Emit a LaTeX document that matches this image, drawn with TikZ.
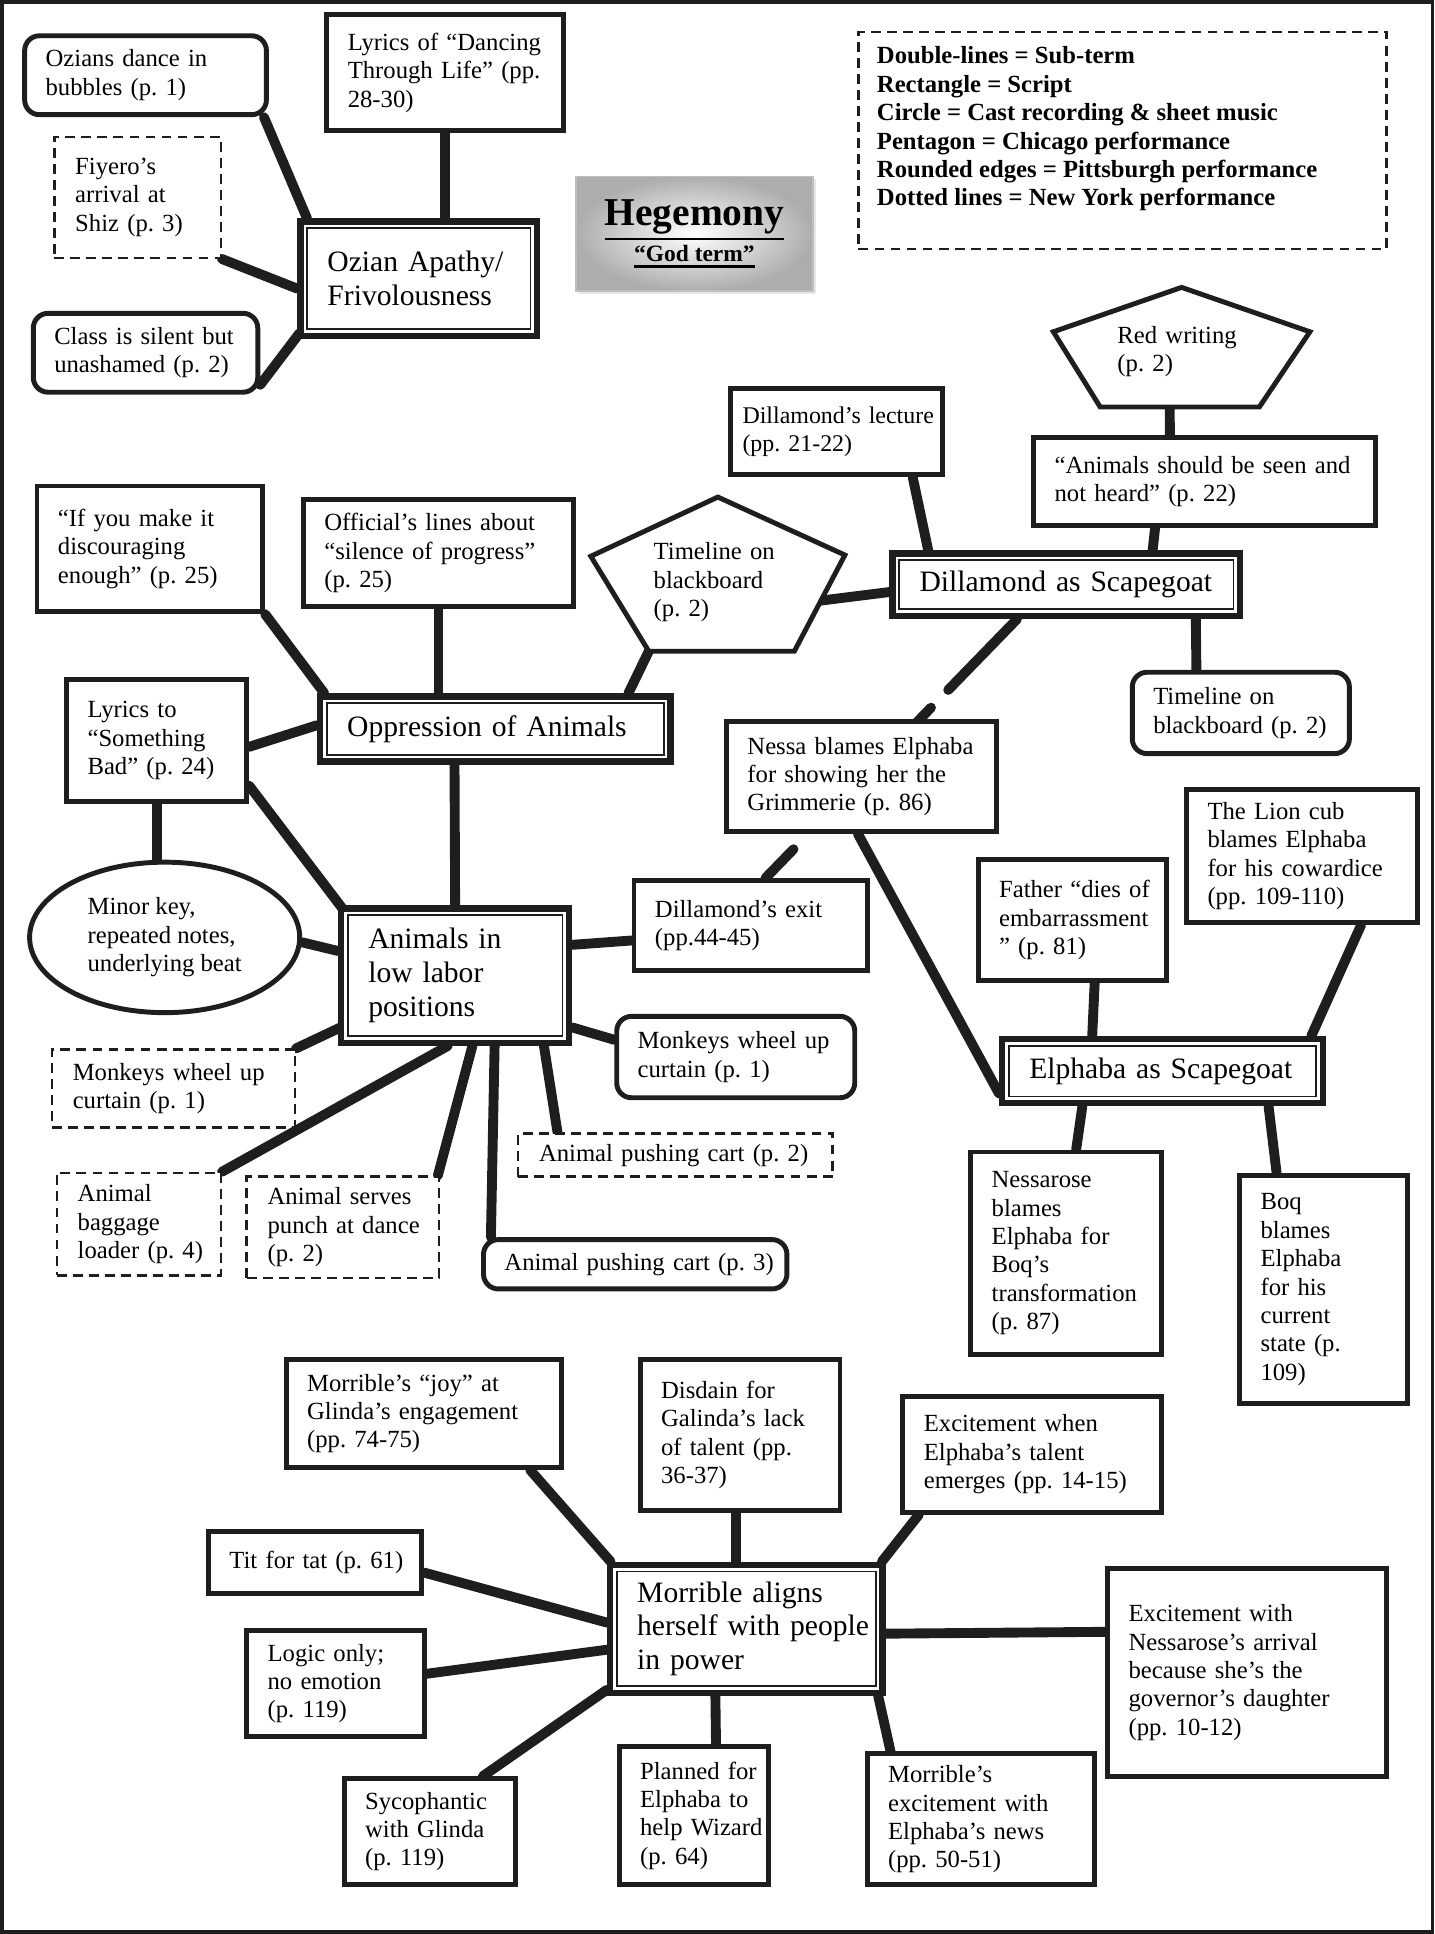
\documentclass[tikz,border=0pt]{standalone}
\usepackage{fontspec}
\setmainfont{Liberation Serif}
\usepackage{xcolor}
\usepackage{tikz}
\usetikzlibrary{calc, shapes.geometric, backgrounds, shadows}

\definecolor{ink}{HTML}{1E1E1E}
\newcommand{\heavyul}[1]{\leavevmode\vtop{\hbox{#1}\kern1.3pt\hrule height 1.1pt}}
\frenchspacing

\tikzset{
	script/.style = {draw = ink, line width = 2pt, fill = white, align = left,
		font = \fontsize{10}{11.5}\selectfont, inner xsep = 8.5pt,
		execute at begin node = {\rightskip = -16pt plus 2em}},
	pitt/.style = {script, rounded corners = 6pt},
	newyork/.style = {script, line width = 1pt, dash pattern = on 4pt off 2.5pt},
	subterm/.style = {script, line width = 2.6pt, inner xsep = 11pt,
		font = \fontsize{12}{13.7}\selectfont,
		path picture = {\draw [ink, line width = 0.7pt]
			([shift = {(2.7pt,-2.7pt)}]path picture bounding box.north west) rectangle
			([shift = {(-2.7pt,2.7pt)}]path picture bounding box.south east);}},
	pentatext/.style = {script, draw = none, fill = none, inner sep = 0pt},
	chicago/.style = {draw = ink, line width = 2pt, fill = white, line join = miter},
	link/.style = {draw = ink, line width = 4pt, line cap = round},
}

\begin{document}
\begin{tikzpicture}[x = 0.5pt, y = -0.5pt]
	\def\W{1163}
	\def\H{1568}

	\useasboundingbox (0,0) rectangle (\W,\H);
	\draw [ink, line width = 1.6pt] (1.6,1.6) rectangle (\W-1.6,\H-1.6);

	\node [subterm, text width = 74pt, minimum height = 46.4pt] (ozian) at (339.5,226) {Ozian Apathy/\\Frivolousness};
	\node [pitt, text width = 81pt, minimum height = 32pt] (ozdance) at (118,61) {Ozians dance in\\bubbles (p. 1)};
	\node [script, text width = 79pt, minimum height = 47pt] (ozlyrics) at (361,59) {Lyrics of “Dancing\\Through Life” (pp.\\28-30)};
	\node [newyork, text width = 50.5pt, minimum height = 49pt] (ozfiyero) at (111.5,160) {Fiyero’s\\arrival at\\Shiz (p. 3)};
	\node [pitt, text width = 74pt, minimum height = 32pt] (ozclass) at (118,286) {Class is silent but\\unashamed (p. 2)};

	\node [draw = gray!50, line width = 0.6pt, inner color = white, outer color = black!32,
		drop shadow = {shadow xshift = 1.2pt, shadow yshift = -1.2pt, opacity = 0.2},
		minimum width = 96pt, minimum height = 46.5pt, align = center] (hegemony) at (563,189.5)
		{\fontsize{16}{18}\selectfont\bfseries\heavyul{Hegemony}\\[1pt]
		\fontsize{9.5}{11}\selectfont\bfseries\heavyul{“God term”}};

	\node [newyork, font = \bfseries\fontsize{10}{11.5}\selectfont, inner xsep = 7.5pt, inner ysep = 6pt] (legend) at (910,114)
		{\parbox[c][76pt][t]{199pt}{Double-lines = Sub-term\\
		Rectangle = Script\\
		Circle = Cast recording \& sheet music\\
		Pentagon = Chicago performance\\
		Rounded edges = Pittsburgh performance\\
		Dotted lines = New York performance}};

	\draw [chicago] (958,233) -- (1062,269) -- (1021,330) -- (892,330) -- (854,269) -- cycle;
	\node [pentatext, text width = 48pt] (redwriting) at (954,285) {Red writing\\(p. 2)};
	\node [script, text width = 121.5pt, minimum height = 35.5pt] (animalsheard) at (976.5,390.5) {“Animals should be seen and\\not heard” (p. 22)};
	\node [script, inner xsep = 5pt, text width = 76pt, minimum height = 35pt, font = \fontsize{9.7}{11.5}\selectfont] (dlecture) at (678,350) {Dillamond’s lecture\\(pp. 21-22)};
	\draw [chicago] (582,403) -- (685,450) -- (644,528) -- (526,528) -- (479,451) -- cycle;
	\node [pentatext, text width = 45pt] (blackboard) at (575,472) {Timeline on\\blackboard\\(p. 2)};
	\node [subterm, text width = 119pt, minimum height = 25.4pt] (dill) at (864.5,474) {Dillamond as Scapegoat};
	\node [pitt, text width = 71pt, minimum height = 33pt] (boardnote) at (1006,578) {Timeline on\\blackboard (p. 2)};

	\node [script, text width = 74.5pt, minimum height = 51pt] (ifyou) at (121.5,445) {“If you make it\\discouraging\\enough” (p. 25)};
	\node [script, text width = 92.5pt, minimum height = 43.5pt] (official) at (355.5,448.5) {Official’s lines about\\“silence of progress”\\(p. 25)};
	\node [subterm, text width = 120pt, minimum height = 26.4pt] (opp) at (401.5,591) {Oppression of Animals};
	\node [script, text width = 56pt, minimum height = 49.5pt] (lyricsbad) at (127,600.5) {Lyrics to\\“Something\\Bad” (p. 24)};

	\node [subterm, text width = 70.4pt, minimum height = 54.4pt] (anim) at (369,791) {Animals in\\low labor\\positions};
	\node [script, ellipse, inner sep = 0pt, minimum width = 109.5pt, minimum height = 61pt] (minorkey) at (133.5,760) {Minor key,\\repeated notes,\\underlying beat};
	\node [script, text width = 77.5pt, minimum height = 36.5pt] (dexit) at (608.5,750.5) {Dillamond’s exit\\(pp.44-45)};
	\node [pitt, text width = 79.5pt, minimum height = 33pt] (monkeysr) at (596.5,857) {Monkeys wheel up\\curtain (p. 1)};
	\node [newyork, text width = 81.5pt, minimum height = 31.5pt] (monkeysd) at (140.5,882.5) {Monkeys wheel up\\curtain (p. 1)};
	\node [newyork, text width = 49.5pt, minimum height = 41.5pt] (baggage) at (112.5,992.5) {Animal\\baggage\\loader (p. 4)};
	\node [newyork, text width = 61pt, minimum height = 41pt] (punch) at (278,995) {Animal serves\\punch at dance\\(p. 2)};
	\node [newyork, text width = 110.5pt, minimum height = 17.5pt] (cart2) at (547.5,936.5) {Animal pushing cart (p. 2)};
	\node [pitt, text width = 106pt, minimum height = 20pt] (cart3) at (515,1025) {Animal pushing cart (p. 3)};

	\node [script, text width = 92.5pt, minimum height = 44.5pt] (nessagrim) at (698.5,629.5) {Nessa blames Elphaba\\for showing her the\\Grimmerie (p. 86)};
	\node [script, text width = 76.5pt, minimum height = 54pt] (lion) at (1055.5,694) {The Lion cub\\blames Elphaba\\for his cowardice\\(pp. 109-110)};
	\node [script, text width = 59.5pt, minimum height = 49pt] (father) at (869.5,746) {Father “dies of\\embarrassment\\” (p. 81)};
	\node [subterm, text width = 108pt, minimum height = 25.9pt] (elph) at (942.5,868.5) {Elphaba as Scapegoat};
	\node [script, text width = 60.5pt, minimum height = 82pt] (nessarose) at (864.5,1016) {Nessarose\\blames\\Elphaba for\\Boq’s\\transformation\\(p. 87)};
	\node [script, text width = 51pt, minimum height = 92.5pt] (boq) at (1073,1045.5) {Boq\\blames\\Elphaba\\for his\\current\\state (p.\\109)};

	\node [subterm, text width = 88.4pt, minimum height = 51.9pt] (morr) at (605,1320.5) {Morrible aligns\\herself with people\\in power};
	\node [script, text width = 94.5pt, minimum height = 44pt] (mjoy) at (343.5,1146) {Morrible’s “joy” at\\Glinda’s engagement\\(pp. 74-75)};
	\node [script, text width = 64pt, minimum height = 61.5pt] (mdisdain) at (600,1163.5) {Disdain for\\Galinda’s lack\\of talent (pp.\\36-37)};
	\node [script, text width = 88pt, minimum height = 47pt] (mtalent) at (837,1179) {Excitement when\\Elphaba’s talent\\emerges (pp. 14-15)};
	\node [script, text width = 69.5pt, minimum height = 25pt] (mtit) at (255.5,1267) {Tit for tat (p. 61)};
	\node [script, text width = 55pt, minimum height = 43pt] (mlogic) at (272,1365) {Logic only;\\no emotion\\(p. 119)};
	\node [script, text width = 96pt, minimum height = 84pt] (mnessarose) at (1011,1356) {Excitement with\\Nessarose’s arrival\\because she’s the\\governor’s daughter\\(pp. 10-12)};
	\node [script, text width = 52.5pt, minimum height = 43pt] (msyco) at (348.5,1485) {Sycophantic\\with Glinda\\(p. 119)};
	\node [script, text width = 43.5pt, minimum height = 56pt] (mplanned) at (562.5,1472) {Planned for\\Elphaba to\\help Wizard\\(p. 64)};
	\node [script, text width = 75pt, minimum height = 53pt] (mnews) at (795,1475) {Morrible’s\\excitement with\\Elphaba’s news\\(pp. 50-51)};

	\begin{scope}[on background layer]
		\draw [link] ($(ozdance.south east)+(-4,0)$) -- ($(ozian.north west)+(8,0)$);
		\draw [link] (ozlyrics.south) -- (ozlyrics.south |- ozian.north);
		\draw [link] (ozfiyero.south east) -- ($(ozian.west)+(0,8)$);
		\draw [link] ($(ozclass.south east)+(0,-8)$) -- ($(ozian.south west)+(2,-5)$);

		\draw [link] ($(redwriting)+(-6,0)$) -- ($(animalsheard.north)+(-28,0)$);
		\draw [link] ($(animalsheard.south)+(-40,0)$) -- ($(dill.north)+(70,0)$);
		\draw [link] ($(dlecture.south)+(62,0)$) -- ($(dill.north)+(-112,0)$);
		\draw [link] ($(blackboard)+(90,15)$) -- ($(dill.west)+(0,6)$);
		\draw [link] ($(blackboard)+(-49,56)$) -- ($(opp.north)+(108,0)$);
		\draw [link] ($(dill.south)+(105,0)$) -- ($(boardnote.north)+(-36,0)$);
		\draw [link, dash pattern = on 40pt off 10pt on 8pt off 72pt on 40pt] ($(dill.south)+(-40,0)$) -- ($(dexit.north)+(12,0)$);

		\draw [link] (ifyou.south east) -- ($(opp.north west)+(6,0)$);
		\draw [link] (official.south) -- (official.south |- opp.north);
		\draw [link] ($(lyricsbad.east)+(0,5)$) -- ($(opp.west)+(0,-3)$);
		\draw [link] ($(opp.south)+(-33,0)$) -- (anim.north);

		\draw [link] (lyricsbad.south) -- (lyricsbad.south |- minorkey.north);
		\draw [link] ($(lyricsbad.south east)+(0,-15)$) -- ($(anim.north west)+(4,3)$);
		\draw [link] ($(minorkey.east)+(0,4)$) -- ($(anim.west)+(0,-20)$);
		\draw [link] ($(anim.east)+(0,-25)$) -- ($(dexit.west)+(0,12)$);
		\draw [link] ($(anim.east)+(0,42)$) -- ($(monkeysr.west)+(0,-14)$);
		\draw [link] ($(anim.south west)+(2,-15)$) -- (monkeysd.north east);
		\draw [link] ($(anim.south)+(-6,0)$) -- (baggage.north east);
		\draw [link] ($(anim.south)+(14,0)$) -- ($(punch.north east)+(-2,0)$);
		\draw [link] ($(anim.south)+(32,0)$) -- ($(cart3.north west)+(8,0)$);
		\draw [link] ($(anim.south)+(72,0)$) -- ($(cart2.north west)+(33,0)$);

		\draw [link] ($(nessagrim.south)+(-3,0)$) -- ($(elph.west)+(0,18)$);
		\draw [link] ($(father.south)+(18,0)$) -- ($(elph.north)+(-57,0)$);
		\draw [link] ($(lion.south)+(48,0)$) -- ($(elph.north east)+(-12,0)$);
		\draw [link] ($(elph.south)+(-65,0)$) -- ($(nessarose.north)+(8,0)$);
		\draw [link] ($(elph.south)+(86,0)$) -- ($(boq.north)+(-38,0)$);

		\draw [link] ($(mjoy.south east)+(-27,0)$) -- ($(morr.north west)+(3,0)$);
		\draw [link] ($(mdisdain.south)+(-3,0)$) -- ($(morr.north)+(-8,0)$);
		\draw [link] ($(mtalent.south west)+(15,0)$) -- ($(morr.north east)+(-3,0)$);
		\draw [link] ($(mtit.east)+(0,8)$) -- ($(morr.west)+(0,-5)$);
		\draw [link] ($(mlogic.east)+(0,-8)$) -- ($(morr.west)+(0,17)$);
		\draw [link] ($(msyco.north)+(43,0)$) -- ($(morr.south west)+(0,-5)$);
		\draw [link] ($(mplanned.north)+(18,0)$) -- ($(morr.south)+(-25,0)$);
		\draw [link] ($(mnews.north west)+(21,0)$) -- ($(morr.south east)+(-6,0)$);
		\draw [link] ($(morr.east)+(0,4)$) -- ($(mnessarose.west)+(0,-33)$);
	\end{scope}
\end{tikzpicture}
\end{document}
